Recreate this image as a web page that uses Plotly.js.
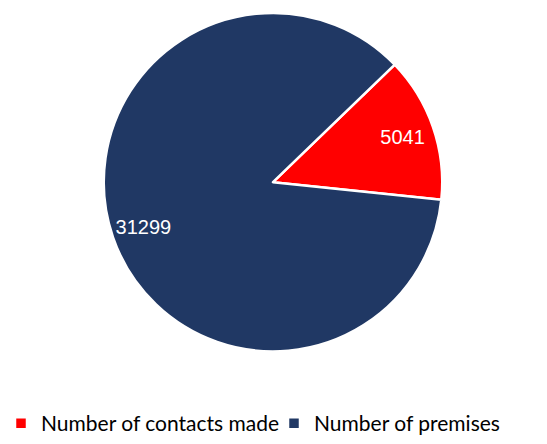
<!DOCTYPE html>
<html><head><meta charset="utf-8">
<script src="https://cdn.plot.ly/plotly-3.0.1.min.js"></script>
<style>body{margin:0;background:#fff}#chart{width:547px;height:444px}</style>
</head><body><div id="chart"></div>
<script>
const labels = ["Number of contacts made", "Number of premises"];
const values = [5041, 31299];
const valueText = ["5041", "31299"];
const colors = ["#FF0000", "#203864"];

const dom = {x: [103/547, 443/547], y: [1 - 353/444, 1 - 13/444]};

const pie = {
  type: "pie",
  labels: labels,
  values: values,
  sort: false,
  direction: "clockwise",
  rotation: 46,
  marker: {colors: colors, line: {color: "#ffffff", width: 2.5}},
  textinfo: "none",
  domain: dom,
  hoverinfo: "label+value"
};

// transparent overlay ring used only to position the value labels
const labelRing = {
  type: "pie",
  labels: labels,
  values: values,
  text: valueText,
  sort: false,
  direction: "clockwise",
  rotation: 46,
  hole: 0.62,
  marker: {colors: ["rgba(0,0,0,0)", "rgba(0,0,0,0)"], line: {width: 0}},
  textinfo: "text",
  textposition: "inside",
  insidetextorientation: "horizontal",
  textfont: {family: "Liberation Sans, Arial, sans-serif", size: 20, color: "#ffffff"},
  domain: dom,
  showlegend: false,
  hoverinfo: "skip"
};

const layout = {
  width: 547, height: 444,
  margin: {l: 0, r: 0, t: 0, b: 0},
  paper_bgcolor: "#ffffff",
  showlegend: true,
  legend: {
    orientation: "h", x: 0.005, xanchor: "left", y: -0.005, yanchor: "bottom",
    font: {family: "Lato, Carlito, sans-serif", size: 21, color: "#000000"},
    itemwidth: 30, traceorder: "normal", entrywidth: 228
  }
};
Plotly.newPlot("chart", [pie, labelRing], layout, {displayModeBar: false});
</script></body></html>
